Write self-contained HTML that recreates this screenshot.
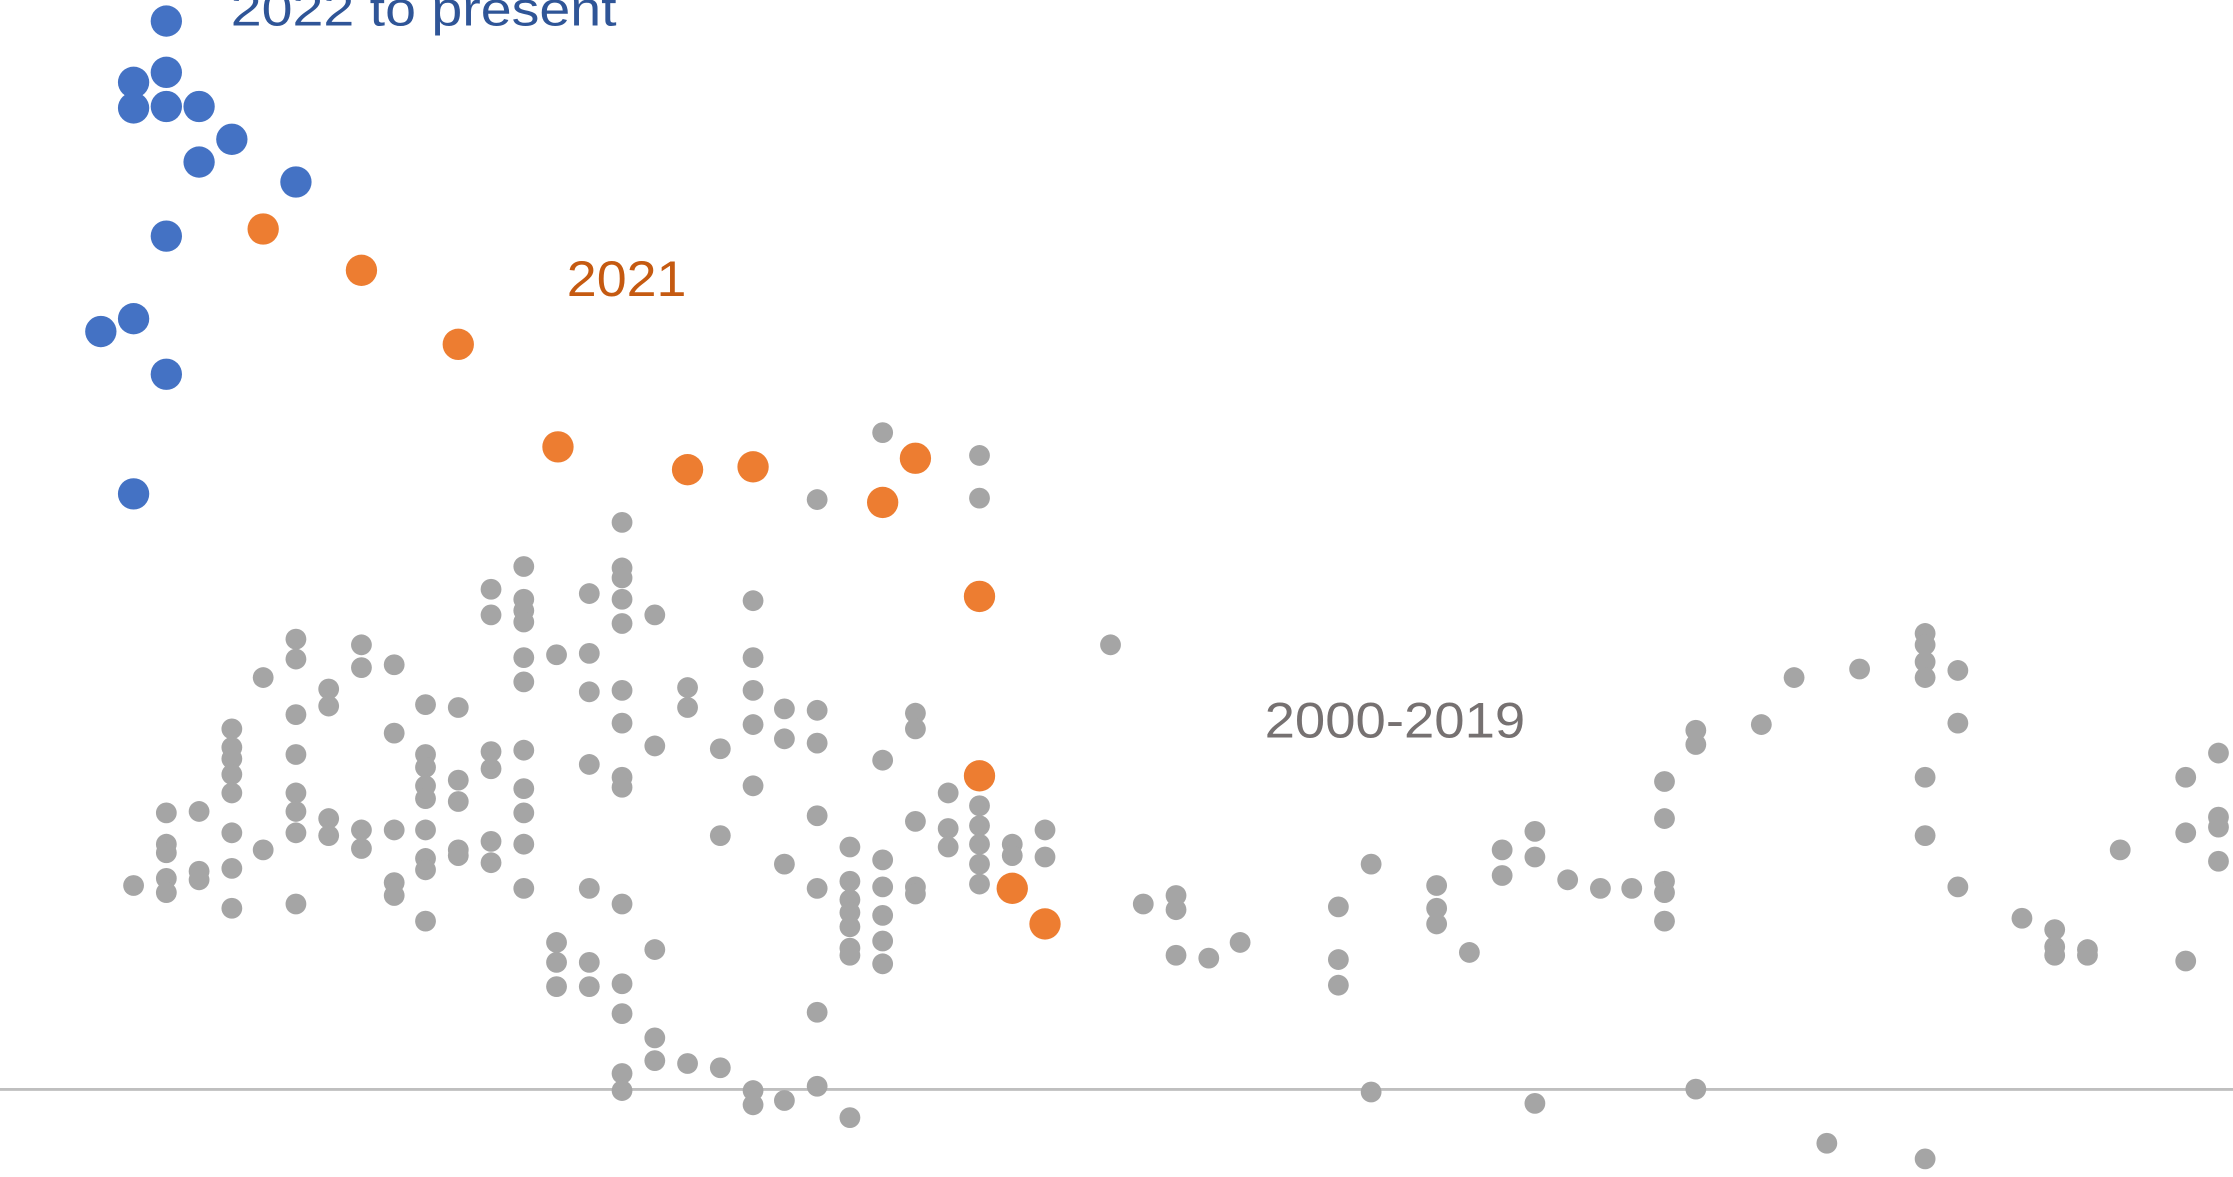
<!DOCTYPE html>
<html><head><meta charset="utf-8"><style>
html,body{margin:0;padding:0;background:#fff;overflow:hidden}
svg{display:block}
text{font-family:"Liberation Sans",sans-serif}
</style></head><body>
<svg id="s" width="2233" height="1177" viewBox="0 0 1568 826.5" preserveAspectRatio="none" xmlns="http://www.w3.org/2000/svg">
<rect width="1568" height="827" fill="#fff"/>
<line x1="0" y1="765" x2="1568" y2="765" stroke="#bfbfbf" stroke-width="2"/>
<g id="g" transform="translate(0.8,0.8)"></g>
<text x="162" y="18" font-size="34" fill="#2f5597" textLength="271" lengthAdjust="spacingAndGlyphs">2022 to present</text>
<text x="398" y="208" font-size="35" fill="#c55a11" textLength="84" lengthAdjust="spacingAndGlyphs">2021</text>
<text x="888" y="518" font-size="35" fill="#767171" textLength="183" lengthAdjust="spacingAndGlyphs">2000-2019</text>
</svg>
<script>
var gray={93:[621],116:[570,592,598,616,626],139:[569,611,617],162:[511,524,532,543,556,584,609,637],184:[475,596],207:[448,462,501,529,556,569,584,634],230:[483,495,574,586],253:[452,468,582,595],276:[466,514,582,619,628],298:[494,529,538,551,560,582,602,610,646],321:[496,547,562,596,600],344:[413,431,527,539,590,605],367:[397,420,428,436,461,478,526,553,570,592,623],390:[459,661,675,692],413:[416,458,485,536,623,675,692],436:[366,398,405,420,437,484,507,545,552,634,690,711,753,765],459:[431,523,666,728,744],482:[482,496,746],505:[525,586,749],528:[421,461,484,508,551,765,775],550:[497,518,606,772],573:[350,498,521,572,623,710,762],596:[594,618,631,640,650,665,670,784],619:[303,533,603,622,642,660,676],642:[500,511,576,622,627],665:[556,581,594],687:[319,349,565,579,592,606,620],710:[592,600],733:[582,601],779:[452],802:[634],825:[628,638,670],848:[672],870:[661],939:[636,673,691],962:[606,766],1008:[621,637,648],1031:[668],1054:[596,614],1077:[583,601,774],1100:[617],1123:[623],1145:[623],1168:[548,574,618,626,646],1190:[512,522,764],1236:[508],1259:[475],1282:[802],1305:[469],1351:[444,452,464,475,545,586,813],1374:[470,507,622],1419:[644],1442:[652,664,670],1465:[666,670],1488:[596],1534:[545,584,674],1557:[528,573,580,604]};
var blue=[[116,14],[93,57],[116,50],[93,75],[116,74],[139,74],[162,97],[139,113],[207,127],[116,165],[70,232],[93,223],[116,262],[93,346]];
var orange=[[184,160],[253,189],[321,241],[391,313],[482,329],[528,327],[642,321],[619,352],[687,418],[687,544],[710,623],[733,648]];
var h='';
for(var x in gray)gray[x].forEach(function(y){h+='<circle cx="'+x+'" cy="'+y+'" r="7.3" fill="#a5a5a5"/>';});
orange.forEach(function(p){h+='<circle cx="'+p[0]+'" cy="'+p[1]+'" r="11" fill="#ed7d31"/>';});
blue.forEach(function(p){h+='<circle cx="'+p[0]+'" cy="'+p[1]+'" r="11" fill="#4472c4"/>';});
document.getElementById('g').innerHTML=h;
</script>
</body></html>
